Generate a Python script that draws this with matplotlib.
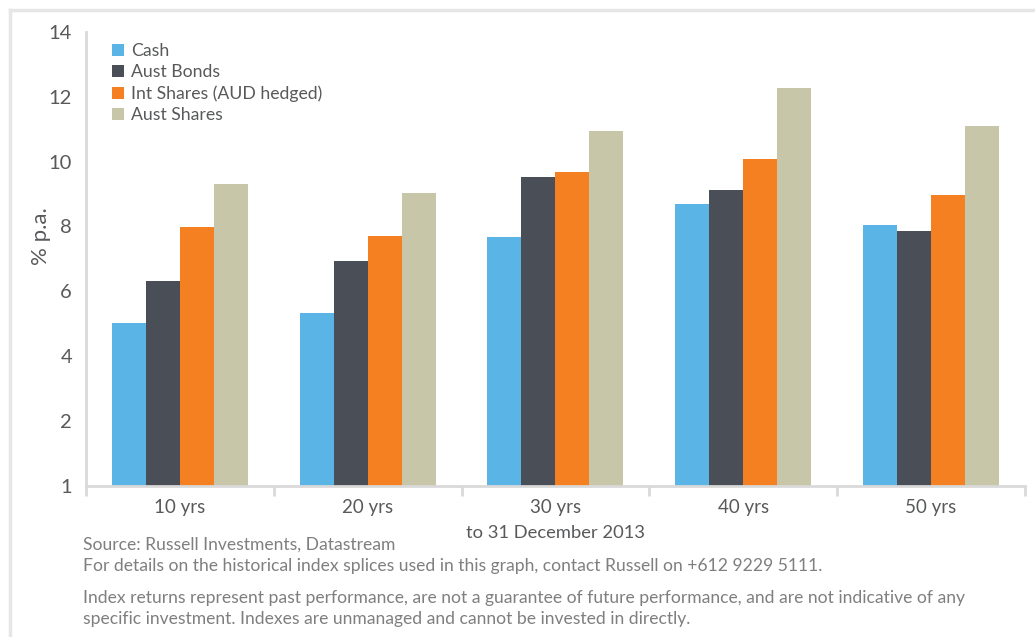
import numpy as np
import matplotlib.pyplot as plt
from matplotlib.lines import Line2D

plt.rcParams['font.family'] = ['Lato', 'DejaVu Sans']

periods = ['10 yrs', '20 yrs', '30 yrs', '40 yrs', '50 yrs']
cash = [5.03, 5.33, 7.68, 8.70, 8.05]
aust_bonds = [6.32, 6.94, 9.53, 9.13, 7.86]
int_shares = [7.99, 7.71, 9.68, 10.08, 8.97]
aust_shares = [9.31, 9.03, 10.95, 12.27, 11.10]
series_names = ['Cash', 'Aust Bonds', 'Int Shares (AUD hedged)', 'Aust Shares']
y_ticks = [0, 2, 4, 6, 8, 10, 12, 14]
y_tick_labels = ['1', '2', '4', '6', '8', '10', '12', '14']

colors = ['#5ab4e6', '#4a4e56', '#f58021', '#c8c6a8']
text_col = '#58595b'
grid_col = '#d9d9d9'

fig = plt.figure(figsize=(10.35, 6.37), dpi=100)
ax = fig.add_axes([0.0831, 0.237, 0.907, 0.713])

x = np.arange(len(periods))
w = 0.181
for i, (vals, name) in enumerate(zip([cash, aust_bonds, int_shares, aust_shares], series_names)):
    ax.bar(x + (i - 1.5) * w, vals, width=w, color=colors[i], label=name)

ax.set_xlim(-0.5, 4.5)
ax.set_ylim(0, 14)
ax.set_yticks(y_ticks)
ax.set_yticklabels(y_tick_labels)
ax.tick_params(axis='y', length=0, pad=10, labelsize=14.5, labelcolor=text_col)

ax.set_xticks(x)
ax.set_xticklabels(periods)
ax.set_xticks(np.arange(-0.5, 5, 1), minor=True)
ax.tick_params(axis='x', which='major', length=0, pad=9, labelsize=13.5, labelcolor=text_col)
ax.tick_params(axis='x', which='minor', length=7, width=2, color=grid_col)

for s in ['top', 'right']:
    ax.spines[s].set_visible(False)
for s in ['left', 'bottom']:
    ax.spines[s].set_color(grid_col)
    ax.spines[s].set_linewidth(2)

ax.set_ylabel('% p.a.', fontsize=16, color=text_col)
ax.yaxis.set_label_coords(-0.037, 0.55)
ax.set_xlabel('to 31 December 2013', fontsize=13.2, color=text_col, labelpad=7)

ax.legend(loc='upper left', bbox_to_anchor=(0.018, 0.995), frameon=False,
          fontsize=12.7, handlelength=0.7, handleheight=0.7, handletextpad=0.4,
          labelspacing=0.3, borderpad=0, labelcolor=text_col)

foot_col = '#7f7f7f'
fig.text(0.08, 0.137, 'Source: Russell Investments, Datastream', fontsize=12.6, color=foot_col)
fig.text(0.08, 0.104, 'For details on the historical index splices used in this graph, contact Russell on +612 9229 5111.',
         fontsize=12.6, color=foot_col)
fig.text(0.08, 0.054, 'Index returns represent past performance, are not a guarantee of future performance, and are not indicative of any',
         fontsize=12.6, color=foot_col)
fig.text(0.08, 0.021, 'specific investment. Indexes are unmanaged and cannot be invested in directly.',
         fontsize=12.6, color=foot_col)

# light frame at the top and left of the figure
fig.add_artist(Line2D([0.0095, 1.0], [0.985, 0.985], color='#e6e6e6', lw=2.5, transform=fig.transFigure))
fig.add_artist(Line2D([0.0095, 0.0095], [0.0, 0.985], color='#e6e6e6', lw=2.5, transform=fig.transFigure))

plt.savefig('out.png', dpi=100)
